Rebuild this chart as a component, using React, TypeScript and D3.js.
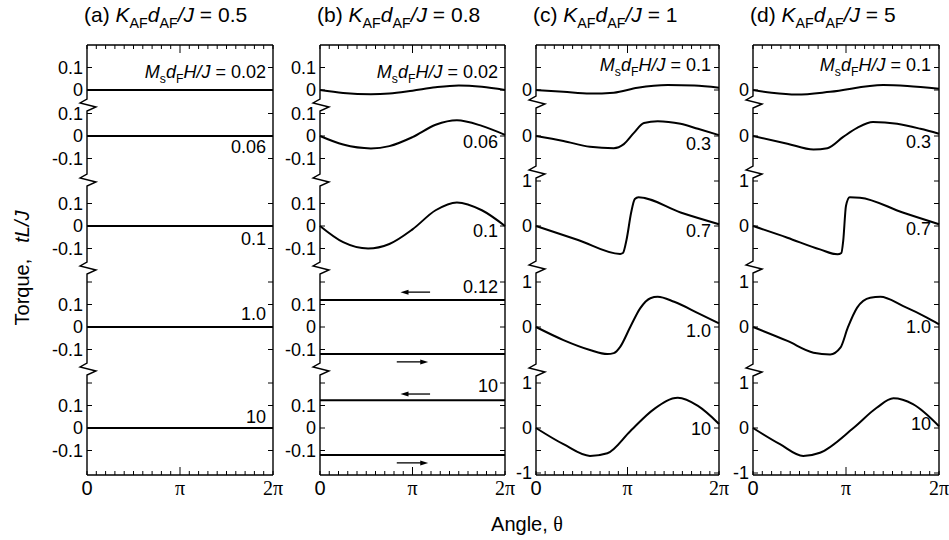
import React, { useEffect, useRef } from 'react';
import * as d3 from 'd3';

// ---------- DATA ----------
const panelIds = ['a', 'b', 'c', 'd'];
const kafValues = ['0.5', '0.8', '1', '5'];
const topFieldValues = ['0.02', '0.02', '0.1', '0.1'];
// field labels for bands 2..5 in each panel
const fieldLabelsA = ['0.06', '0.1', '1.0', '10'];
const fieldLabelsB = ['0.06', '0.1', '0.12', '10'];
const fieldLabelsC = ['0.3', '0.7', '1.0', '10'];
const fieldLabelsD = ['0.3', '0.7', '1.0', '10'];

// series: [theta/pi, torque]
const a1 = [[0, 0], [2, 0]];
const a2 = [[0, 0], [2, 0]];
const a3 = [[0, 0], [2, 0]];
const a4 = [[0, 0], [2, 0]];
const a5 = [[0, 0], [2, 0]];

const b1 = [[0, 0], [0.25, -0.013], [0.55, -0.019], [0.75, -0.016], [1, -0.003], [1.25, 0.012], [1.5, 0.02], [1.75, 0.014], [2, 0]];
const b2 = [[0, 0], [0.25, -0.038], [0.55, -0.055], [0.75, -0.045], [1, -0.005], [1.25, 0.05], [1.48, 0.07], [1.75, 0.045], [2, 0.005]];
const b3 = [[0, 0], [0.25, -0.072], [0.52, -0.1], [0.75, -0.08], [1, -0.015], [1.25, 0.07], [1.48, 0.105], [1.75, 0.07], [2, 0]];
const b4up = [[0, 0.12], [2, 0.12]];
const b4dn = [[0, -0.12], [2, -0.12]];
const b5up = [[0, 0.123], [2, 0.123]];
const b5dn = [[0, -0.12], [2, -0.12]];

const c1 = [[0, 0], [0.3, -0.04], [0.59, -0.08], [0.85, -0.06], [1.11, 0.05], [1.44, 0.11], [1.73, 0.1], [2, 0.05]];
const c2 = [[0, 0], [0.3, -0.11], [0.59, -0.24], [0.85, -0.27], [0.96, -0.18], [1.07, 0.07], [1.18, 0.29], [1.33, 0.33], [1.58, 0.27], [1.77, 0.16], [2, 0.02]];
const c3 = [[0, 0], [0.46, -0.31], [0.92, -0.62], [0.95, -0.6], [0.99, -0.3], [1.04, 0.3], [1.08, 0.6], [1.12, 0.64], [1.58, 0.3], [2, 0.04]];
const c4 = [[0, 0], [0.3, -0.29], [0.59, -0.51], [0.78, -0.6], [0.85, -0.58], [0.92, -0.44], [1.03, 0], [1.14, 0.42], [1.25, 0.64], [1.33, 0.67], [1.51, 0.56], [1.77, 0.31], [2, 0.08]];
const c5 = [[0, 0], [0.3, -0.36], [0.59, -0.62], [0.78, -0.56], [1.03, -0.07], [1.29, 0.42], [1.55, 0.67], [1.77, 0.49], [2, 0.09]];

const dd1 = [[0, 0], [0.2, -0.06], [0.47, -0.1], [0.83, -0.04], [1.4, 0.11], [1.66, 0.09], [2, 0.03]];
const dd2 = [[0, 0], [0.37, -0.17], [0.65, -0.3], [0.8, -0.27], [0.97, -0.02], [1.12, 0.18], [1.29, 0.31], [1.55, 0.27], [1.8, 0.16], [2, 0.05]];
const dd3 = [[0, 0], [0.37, -0.26], [0.72, -0.52], [0.91, -0.63], [0.95, -0.6], [0.97, -0.33], [1.0, 0.45], [1.04, 0.64], [1.15, 0.63], [1.61, 0.3], [2, 0.04]];
const dd4 = [[0, 0], [0.37, -0.31], [0.65, -0.57], [0.83, -0.61], [0.94, -0.46], [1.02, -0.01], [1.12, 0.43], [1.26, 0.65], [1.37, 0.67], [1.61, 0.47], [1.87, 0.21], [2, 0.06]];
const dd5 = [[0, 0], [0.29, -0.36], [0.54, -0.62], [0.72, -0.55], [1.08, 0], [1.33, 0.45], [1.51, 0.66], [1.72, 0.53], [2, 0.04]];

const seriesA = [[a1], [a2], [a3], [a4], [a5]];
const seriesB = [[b1], [b2], [b3], [b4up, b4dn], [b5up, b5dn]];
const seriesC = [[c1], [c2], [c3], [c4], [c5]];
const seriesD = [[dd1], [dd2], [dd3], [dd4], [dd5]];

// y ticks per band (small scale panels a,b and large scale panels c,d)
const ticksSmall = [[0.1, 0], [0.1, 0, -0.1], [0.1, 0, -0.1], [0.2, 0.1, 0, -0.1], [0.2, 0.1, 0, -0.1]];
const labelsSmall = [0.1, 0, -0.1];
const ticksLarge = [[0.5, 0], [0.5, 0, -0.5], [1, 0.5, 0, -0.5], [1, 0.5, 0, -0.5], [1, 0.5, 0, -0.5, -1]];
const labelsLarge = [1, 0, -1];

// arrows in panel b: [band, torque level, direction]
const arrowsB = [[3, 0.155, -1], [3, -0.155, 1], [4, 0.151, -1], [4, -0.155, 1]];

const xTickLabels = ['0', 'π', '2π'];

// ---------- LAYOUT ----------
const W = 949, H = 540;
const panelX = [[87, 273], [320, 505], [536, 719], [753, 939]];
const TOP = 45, BOTTOM = 475;
const bandZero = [90, 136, 226, 327, 428];
const breaksSmall = [105, 180, 268, 369];
const breaksLarge = [102, 172, 267, 370];
const FONT = "'Liberation Sans', Arial, Helvetica, sans-serif";
const SERIF = "'Liberation Serif', 'Times New Roman', serif";

type Seg = { t: string; i?: boolean; sub?: boolean; dx?: number };

function rich(sel: any, segs: Seg[], fs: number) {
  let inSub = false;
  segs.forEach((s) => {
    const ts = sel.append('tspan').text(s.t);
    if (s.i) ts.attr('font-style', 'italic');
    if (s.dx) ts.attr('dx', s.dx);
    if (s.sub) {
      ts.attr('font-size', fs * 0.68);
      if (!inSub) ts.attr('dy', fs * 0.28);
      inSub = true;
    } else {
      if (inSub) ts.attr('dy', -fs * 0.28);
      inSub = false;
    }
  });
}

export default function App() {
  const ref = useRef<SVGSVGElement>(null);
  useEffect(() => {
    const svg = d3.select(ref.current);
    svg.selectAll('*').remove();
    svg.append('rect').attr('width', W).attr('height', H).attr('fill', '#fff');

    const allSeries = [seriesA, seriesB, seriesC, seriesD];
    const allLabels = [fieldLabelsA, fieldLabelsB, fieldLabelsC, fieldLabelsD];
    const labelRight = [266, 498, 711, 931];
    const labelBase = [
      [78, 153, 245, 320, 423],
      [78, 148, 237, 293, 392],
      [71, 150, 237, 337, 435],
      [71, 148, 235, 333, 430],
    ];

    panelIds.forEach((id, pi) => {
      const [x0, x1] = panelX[pi];
      const large = pi >= 2;
      const g = svg.append('g');
      const x = d3.scaleLinear().domain([0, 2]).range([x0, x1]);
      const halfSpan = large ? 1 : 0.2;
      const yScales = bandZero.map((z) =>
        d3.scaleLinear().domain([-halfSpan, halfSpan]).range([z + 45, z - 45])
      );

      // title
      const title = g.append('text').attr('x', x0 - 3).attr('y', 22)
        .attr('font-family', FONT).attr('font-size', 21).attr('fill', '#000');
      rich(title, [
        { t: `(${id}) ` }, { t: 'K', i: true }, { t: 'AF', sub: true },
        { t: 'd', i: true }, { t: 'AF', sub: true }, { t: '/J', i: true },
        { t: ` = ${kafValues[pi]}` },
      ], 21);

      // borders
      const bw = 1.4;
      g.append('line').attr('x1', x0).attr('x2', x1).attr('y1', TOP).attr('y2', TOP)
        .attr('stroke', '#000').attr('stroke-width', bw);
      g.append('line').attr('x1', x0).attr('x2', x1).attr('y1', BOTTOM).attr('y2', BOTTOM)
        .attr('stroke', '#000').attr('stroke-width', bw);
      g.append('line').attr('x1', x1).attr('x2', x1).attr('y1', TOP).attr('y2', BOTTOM)
        .attr('stroke', '#000').attr('stroke-width', bw);
      const breaks = large ? breaksLarge : breaksSmall;
      const p = d3.path();
      p.moveTo(x0, TOP);
      breaks.forEach((b) => {
        p.lineTo(x0, b - 6);
        p.lineTo(x0 - 7, b - 2);
        p.lineTo(x0 + 9, b + 2);
        p.lineTo(x0, b + 6);
      });
      p.lineTo(x0, BOTTOM);
      g.append('path').attr('d', p.toString()).attr('fill', 'none')
        .attr('stroke', '#000').attr('stroke-width', bw).attr('stroke-linejoin', 'miter');

      // x ticks
      const xt = d3.range(0, 21).map((i) => i / 10);
      xt.forEach((v) => {
        const major = Math.abs(v - 1) < 1e-9;
        const len = major ? 8 : 4;
        g.append('line').attr('x1', x(v)).attr('x2', x(v)).attr('y1', TOP).attr('y2', TOP + len)
          .attr('stroke', '#000').attr('stroke-width', 1);
        g.append('line').attr('x1', x(v)).attr('x2', x(v)).attr('y1', BOTTOM).attr('y2', BOTTOM - len)
          .attr('stroke', '#000').attr('stroke-width', 1);
      });
      [0, 1, 2].forEach((v, k) => {
        const t = g.append('text').attr('x', x(v)).attr('y', 495).attr('text-anchor', 'middle')
          .attr('font-size', 20).attr('fill', '#000');
        if (k === 0) t.attr('font-family', FONT).text(xTickLabels[k]);
        else t.attr('font-family', SERIF).text(xTickLabels[k]);
      });

      // y ticks
      const ticks = large ? ticksLarge : ticksSmall;
      const labelSet = large ? labelsLarge : labelsSmall;
      ticks.forEach((tv, bi) => {
        tv.forEach((v) => {
          const yy = yScales[bi](v);
          g.append('line').attr('x1', x0).attr('x2', x0 + 5).attr('y1', yy).attr('y2', yy)
            .attr('stroke', '#000').attr('stroke-width', 1);
          g.append('line').attr('x1', x1).attr('x2', x1 - 5).attr('y1', yy).attr('y2', yy)
            .attr('stroke', '#000').attr('stroke-width', 1);
          if (labelSet.some((l) => Math.abs(l - v) < 1e-9)) {
            g.append('text').attr('x', x0 - 4).attr('y', yy).attr('dy', '0.36em')
              .attr('text-anchor', 'end').attr('font-family', FONT).attr('font-size', 18)
              .attr('fill', '#000').text(String(v));
          }
        });
      });

      // curves
      const line = d3.line<number[]>().curve(d3.curveMonotoneX);
      allSeries[pi].forEach((bandSeries, bi) => {
        bandSeries.forEach((s) => {
          line.x((d) => x(d[0])).y((d) => yScales[bi](d[1]));
          g.append('path').attr('d', line(s as number[][]) as string).attr('fill', 'none')
            .attr('stroke', '#000').attr('stroke-width', 2);
        });
      });

      // field labels
      const top = g.append('text').attr('x', labelRight[pi]).attr('y', labelBase[pi][0])
        .attr('text-anchor', 'end').attr('font-family', FONT).attr('font-size', 18).attr('fill', '#000');
      rich(top, [
        { t: 'M', i: true }, { t: 's', sub: true }, { t: 'd', i: true }, { t: 'F', sub: true },
        { t: 'H/J', i: true }, { t: ` = ${topFieldValues[pi]}` },
      ], 18);
      allLabels[pi].forEach((lab, k) => {
        g.append('text').attr('x', labelRight[pi]).attr('y', labelBase[pi][k + 1])
          .attr('text-anchor', 'end').attr('font-family', FONT).attr('font-size', 18)
          .attr('fill', '#000').text(lab);
      });

      // arrows (panel b)
      if (id === 'b') {
        arrowsB.forEach(([bi, lvl, dir]) => {
          const yy = yScales[bi](lvl);
          const xa = dir < 0 ? x(1.19) : x(0.83);
          const xb = dir < 0 ? x(0.87) : x(1.17);
          g.append('line').attr('x1', xa).attr('x2', xb - dir * 6).attr('y1', yy).attr('y2', yy)
            .attr('stroke', '#000').attr('stroke-width', 1.3);
          const tri = d3.path();
          tri.moveTo(xb, yy);
          tri.lineTo(xb - dir * 8, yy - 2.5);
          tri.lineTo(xb - dir * 8, yy + 2.5);
          tri.closePath();
          g.append('path').attr('d', tri.toString()).attr('fill', '#000');
        });
      }
    });

    // axis titles
    const yl = svg.append('text').attr('transform', 'translate(29,268) rotate(-90)')
      .attr('text-anchor', 'middle').attr('font-family', FONT).attr('font-size', 20).attr('fill', '#000');
    rich(yl, [{ t: 'Torque,' }, { t: 'tL/J', i: true, dx: 16 }], 20);
    const xl = svg.append('text').attr('x', 527).attr('y', 531).attr('text-anchor', 'middle')
      .attr('font-family', FONT).attr('font-size', 20).attr('fill', '#000');
    xl.append('tspan').text('Angle,  ');
    xl.append('tspan').attr('font-family', SERIF).text('θ');
  }, []);

  return (
    <svg ref={ref} width={W} height={H}
      style={{ position: 'absolute', left: 0, top: 0, display: 'block', background: '#fff' }} />
  );
}
